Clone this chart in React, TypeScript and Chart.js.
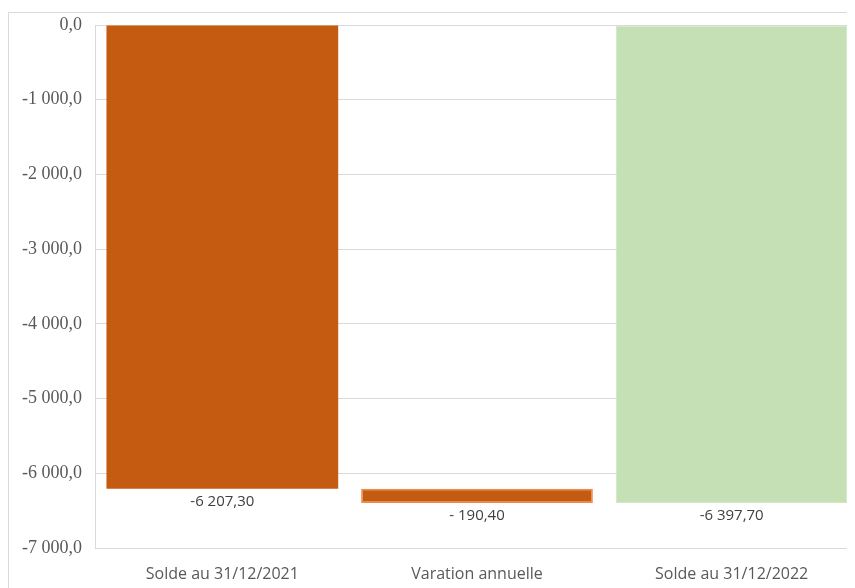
import React, { useEffect, useRef } from "react";
import { Chart, registerables } from "chart.js";

Chart.register(...registerables);

const categories = ["Solde au 31/12/2021", "Varation annuelle", "Solde au 31/12/2022"];
const values = [-6207.3, -190.4, -6397.7];
const barKinds = ["total", "delta", "total"];
const barColors = ["#C55A11", "#C55A11", "#C5E0B4"];
const borderColors = ["#C55A11", "#F08A4B", "#D2E7C5"];
const yTicks = [0, -1000, -2000, -3000, -4000, -5000, -6000, -7000];

function groupDigits(s: string): string {
  return s.replace(/\B(?=(\d{3})+(?!\d))/g, " ");
}

function fmtLabel(v: number): string {
  const abs = Math.abs(v);
  const [i, d] = abs.toFixed(2).split(".");
  const body = groupDigits(i) + "," + d;
  if (v < 0) return (abs < 1000 ? "- " : "-") + body;
  return body;
}

function fmtTick(v: number): string {
  const abs = Math.abs(v);
  const [i, d] = abs.toFixed(1).split(".");
  return (v < 0 ? "-" : "") + groupDigits(i) + "," + d;
}

export default function App() {
  const ref = useRef<HTMLCanvasElement | null>(null);

  useEffect(() => {
    document.documentElement.style.overflow = "hidden";
    document.body.style.overflow = "hidden";
    if (!ref.current) return;
    let running = 0;
    const ranges = values.map((v, i) => {
      if (barKinds[i] === "total") {
        running = v;
        return [0, v];
      }
      const start = running;
      running = running + v;
      return [start, running];
    });

    const labelPlugin = {
      id: "waterfallLabels",
      afterDatasetsDraw(chart: any) {
        const ctx = chart.ctx;
        const meta = chart.getDatasetMeta(0);
        ctx.save();
        ctx.font = '15px "Open Sans"';
        ctx.fillStyle = "#404040";
        ctx.textAlign = "center";
        ctx.textBaseline = "middle";
        meta.data.forEach((el: any, i: number) => {
          const bottom = Math.max(el.y, el.base);
          ctx.fillText(fmtLabel(values[i]), el.x, bottom + 13);
        });
        ctx.restore();
      },
    };

    const chart = new Chart(ref.current, {
      type: "bar",
      data: {
        labels: categories,
        datasets: [
          {
            data: ranges as any,
            backgroundColor: barColors,
            borderColor: borderColors,
            borderWidth: [0, 1.5, 1] as any,
            borderSkipped: false,
            barPercentage: 0.91,
            categoryPercentage: 1,
          },
        ],
      },
      options: {
        animation: false,
        responsive: false,
        maintainAspectRatio: false,
        layout: { padding: { top: 12, left: 0, right: 0, bottom: 0 } },
        plugins: { legend: { display: false }, tooltip: { enabled: false } },
        scales: {
          x: {
            grid: { display: false, drawTicks: false },
            border: { display: false },
            ticks: {
              color: "#595959",
              font: { family: "Open Sans", size: 16 },
              padding: 17,
              maxRotation: 0,
              autoSkip: false,
            },
            afterFit(scale: any) {
              scale.height = 40;
              scale.paddingLeft = 0;
              scale.paddingRight = 0;
            },
          },
          y: {
            min: -7000,
            max: 0,
            afterBuildTicks(scale: any) {
              scale.ticks = yTicks.map((v) => ({ value: v }));
            },
            grid: { color: "#D9D9D9", drawTicks: false, lineWidth: 1 },
            border: { display: true, color: "#D9D9D9" },
            ticks: {
              color: "#595959",
              font: { family: "Liberation Serif", size: 18 },
              padding: 13,
              callback: (v: any) => fmtTick(Number(v)),
            },
            afterFit(scale: any) {
              scale.width = 86;
              scale.paddingTop = 0;
              scale.paddingBottom = 0;
            },
          },
        },
      },
      plugins: [labelPlugin],
    });
    return () => chart.destroy();
  }, []);

  return (
    <div
      style={{
        marginTop: 4,
        width: 851,
        height: 576,
        borderTop: "1px solid #D9D9D9",
        borderLeft: "1px solid #D9D9D9",
        boxSizing: "border-box",
        background: "#fff",
      }}
    >
      <canvas ref={ref} width={850} height={575} style={{ display: "block" }} />
    </div>
  );
}
